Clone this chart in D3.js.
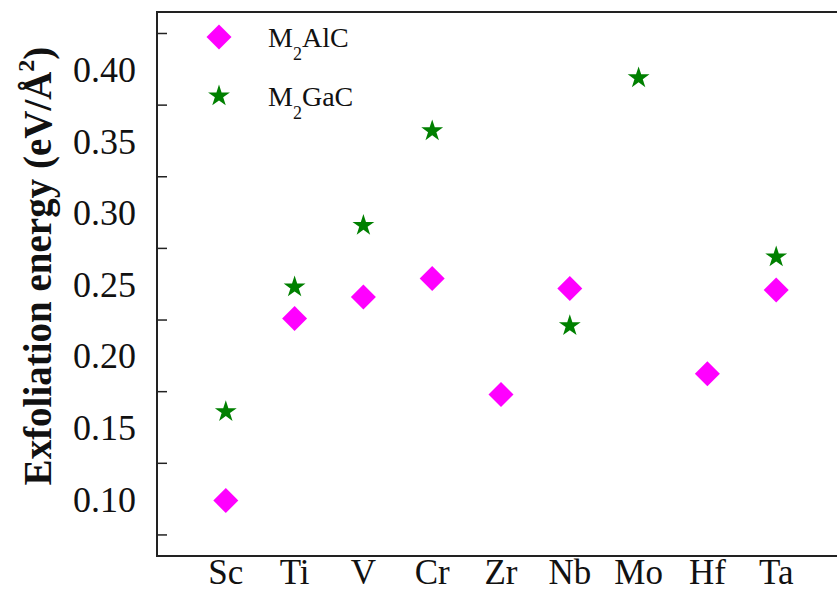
<!DOCTYPE html>
<html>
<head>
<meta charset="utf-8">
<script src="https://cdn.jsdelivr.net/npm/d3@7"></script>
<style>
  body { margin: 0; background: #fff; }
  svg { display: block; font-family: "Liberation Serif", "Times New Roman", serif; }
</style>
</head>
<body>
<div id="chart"></div>
<script>
// metals along the x axis
const metals = ["Sc", "Ti", "V", "Cr", "Zr", "Nb", "Mo", "Hf", "Ta"];

// exfoliation energy (eV/A^2), null where there is no point
const m2alc = [0.099, 0.226, 0.241, 0.254, 0.173, 0.247, null, 0.1875, 0.246];
const m2gac = [0.161, 0.248, 0.291, 0.357, null, 0.221, 0.394, null, 0.269];

const tick_marks = [0.075, 0.125, 0.175, 0.225, 0.275, 0.325, 0.375, 0.425];
const tick_labels = [0.10, 0.15, 0.20, 0.25, 0.30, 0.35, 0.40];

const svg_width = 837;
const svg_height = 594;
const margins = [12, -8, 38, 157]; //top, right, bottom, left

const magenta = "#ff00ff";
const green = "#008000";

const svg = d3.select("#chart")
  .append("svg")
  .attr("width", svg_width)
  .attr("height", svg_height);

const [margin_top, margin_right, margin_bottom, margin_left] = margins;

const x_axis = d3.scalePoint()
  .domain(metals)
  .range([margin_left, svg_width - margin_right])
  .padding(1);

const y_axis = d3.scaleLinear()
  .domain([0.0603, 0.440])
  .range([svg_height - margin_bottom, margin_top]);

const diamond = d3.symbol().type(d3.symbolSquare).size(312);
const star = d3.symbol().type(d3.symbolStar).size(148);

// frame: left, top, bottom (right edge runs off the picture)
const x0 = margin_left, x1 = svg_width - margin_right;
const y0 = margin_top, y1 = svg_height - margin_bottom;
svg.append("path")
  .attr("d", `M${x1},${y0}H${x0}V${y1}H${x1}`)
  .attr("fill", "none")
  .attr("stroke", "#222")
  .attr("stroke-width", 2);

// inward ticks on the y axis
svg.append("g")
  .selectAll("line")
  .data(tick_marks)
  .join("line")
  .attr("x1", x0)
  .attr("x2", x0 + 10)
  .attr("y1", (d) => y_axis(d))
  .attr("y2", (d) => y_axis(d))
  .attr("stroke", "#222")
  .attr("stroke-width", 1.5);

svg.append("g")
  .selectAll("text")
  .data(tick_labels)
  .join("text")
  .attr("x", 136)
  .attr("y", (d) => y_axis(d))
  .attr("dy", "0.35em")
  .attr("text-anchor", "end")
  .attr("font-size", 36)
  .attr("fill", "#111")
  .text((d) => d3.format(".2f")(d));

svg.append("g")
  .selectAll("text")
  .data(metals)
  .join("text")
  .attr("x", (d) => x_axis(d))
  .attr("y", 584)
  .attr("text-anchor", "middle")
  .attr("font-size", 35)
  .attr("fill", "#111")
  .text((d) => d);

// y label
const y_label = svg.append("text")
  .attr("transform", "translate(51,266) rotate(-90)")
  .attr("text-anchor", "middle")
  .attr("font-size", 39)
  .attr("font-weight", "bold")
  .attr("fill", "#111");
y_label.append("tspan").text("Exfoliation energy (eV/Å");
y_label.append("tspan").attr("font-size", 24).attr("dy", -17).text("2");
y_label.append("tspan").attr("dy", 17).text(")");

// points
svg.append("g")
  .selectAll("path")
  .data(metals.map((m, i) => [m, m2alc[i]]).filter((d) => d[1] !== null))
  .join("path")
  .attr("d", diamond)
  .attr("transform", (d) => `translate(${x_axis(d[0])},${y_axis(d[1])}) rotate(45)`)
  .attr("fill", magenta);

svg.append("g")
  .selectAll("path")
  .data(metals.map((m, i) => [m, m2gac[i]]).filter((d) => d[1] !== null))
  .join("path")
  .attr("d", star)
  .attr("transform", (d) => `translate(${x_axis(d[0])},${y_axis(d[1])})`)
  .attr("fill", green);

// legend
function legendEntry(y, symbol, rotate, color, name) {
  svg.append("path")
    .attr("d", symbol)
    .attr("transform", `translate(219,${y}) rotate(${rotate})`)
    .attr("fill", color);
  const t = svg.append("text")
    .attr("x", 268)
    .attr("y", y + 10)
    .attr("font-size", 28)
    .attr("fill", "#111");
  t.append("tspan").text("M");
  t.append("tspan").attr("font-size", 18).attr("dy", 13).text("2");
  t.append("tspan").attr("dy", -13).text(name);
}
legendEntry(37, diamond, 45, magenta, "AlC");
legendEntry(96, star, 0, green, "GaC");
</script>
</body>
</html>
